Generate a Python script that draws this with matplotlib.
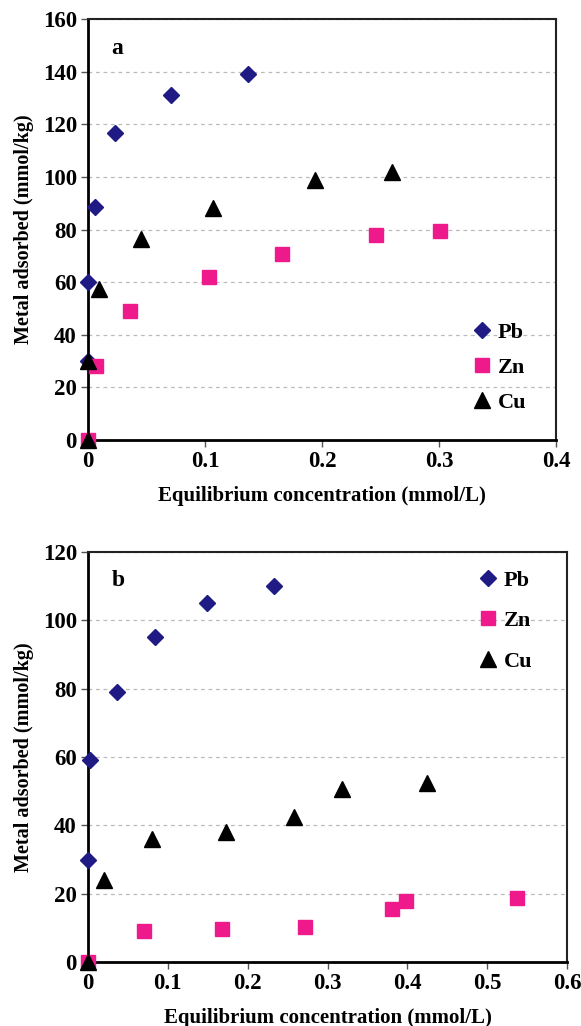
import matplotlib.pyplot as plt

plt.rcParams["font.family"] = ["Liberation Serif", "DejaVu Serif"]
plt.rcParams["font.weight"] = "bold"

# panel a
a_pb_x = [0, 0, 0.006, 0.023, 0.071, 0.137]
a_pb_y = [30, 60, 88.5, 116.5, 131, 139]
a_zn_x = [0, 0.007, 0.036, 0.103, 0.166, 0.246, 0.301]
a_zn_y = [0, 28, 49, 62, 70.5, 78, 79.5]
a_cu_x = [0, 0, 0.009, 0.045, 0.107, 0.194, 0.26]
a_cu_y = [0, 30, 57.5, 76.5, 88, 99, 102]

# panel b
b_pb_x = [0, 0.003, 0.036, 0.084, 0.149, 0.233]
b_pb_y = [30, 59, 79, 95, 105, 110]
b_zn_x = [0, 0.070, 0.168, 0.272, 0.381, 0.398, 0.537]
b_zn_y = [0, 9, 9.6, 10.3, 15.5, 18, 18.7]
b_cu_x = [0, 0.020, 0.080, 0.173, 0.258, 0.318, 0.425]
b_cu_y = [0, 24, 36, 38, 42.5, 50.5, 52.5]

pb_color = "#201a85"
zn_color = "#ee1a8c"
cu_color = "black"

fig = plt.figure(figsize=(5.81, 10.26), dpi=100)
W, H = 581, 1026
ax1 = fig.add_axes([88 / W, 1 - 440 / H, (556 - 88) / W, (440 - 19) / H])
ax2 = fig.add_axes([88 / W, 1 - 962 / H, (567 - 88) / W, (962 - 552) / H])


def panel(ax, pbx, pby, znx, zny, cux, cuy, xmax, ymax, ystep, letter, legpos, legsp):
    ax.plot(pbx, pby, "D", color=pb_color, ms=8.5, label="Pb", clip_on=False, zorder=3)
    ax.plot(znx, zny, "s", color=zn_color, ms=10, label="Zn", clip_on=False, zorder=3)
    ax.plot(cux, cuy, "^", color=cu_color, ms=11, label="Cu", clip_on=False, zorder=4)
    ax.set_xlim(0, xmax)
    ax.set_ylim(0, ymax)
    n = int(round(xmax * 10))
    ax.set_xticks([i / 10 for i in range(n + 1)])
    ax.set_xticklabels(["0"] + ["%.1f" % (i / 10) for i in range(1, n + 1)])
    ax.set_yticks(range(0, ymax + 1, ystep))
    ax.tick_params(labelsize=16.5, direction="out", length=5, width=1, color="#555555", pad=3)
    ax.yaxis.grid(True, linestyle=(0, (3, 3)), color="#bbbbbb", lw=0.9)
    ax.set_axisbelow(True)
    for s in ["left", "bottom"]:
        ax.spines[s].set_linewidth(2)
    for s in ["top", "right"]:
        ax.spines[s].set_linewidth(1.5)
        ax.spines[s].set_color("#222222")
    ax.set_xlabel("Equilibrium concentration (mmol/L)", fontsize=15, fontweight="bold", labelpad=10)
    ax.set_ylabel("Metal adsorbed (mmol/kg)", fontsize=14.5, fontweight="bold", labelpad=6)
    ax.text(0.05, 0.93, letter, transform=ax.transAxes, fontsize=17, fontweight="bold", va="center")
    ax.legend(loc="upper left", bbox_to_anchor=legpos, frameon=False, fontsize=16,
              handletextpad=0.1, labelspacing=legsp, handlelength=1.2, borderpad=0.4)


panel(ax1, a_pb_x, a_pb_y, a_zn_x, a_zn_y, a_cu_x, a_cu_y, 0.4, 160, 20, "a",
      (0.771, 0.327), 0.65)
panel(ax2, b_pb_x, b_pb_y, b_zn_x, b_zn_y, b_cu_x, b_cu_y, 0.6, 120, 20, "b",
      (0.766, 1.005), 0.9)

fig.savefig("out.png", dpi=100)
